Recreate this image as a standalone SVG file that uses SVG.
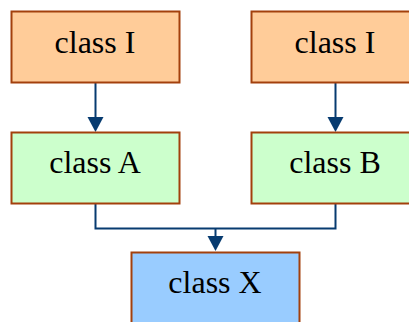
<svg xmlns="http://www.w3.org/2000/svg" width="409" height="322" viewBox="0 0 409 322">
  <style>
    .box { stroke: #a3400c; stroke-width: 2; }
    .iface { fill: #ffcc99; }
    .impl { fill: #ccffcc; }
    .target { fill: #99ccff; }
    .label { font-family: "Liberation Serif", "Times New Roman", serif; font-size: 32px; fill: #000; text-anchor: middle; }
    .wire { fill: none; stroke: #073b70; stroke-width: 2; }
    .head { fill: #073b70; }
  </style>
  <defs>
    <polygon id="arrowhead" class="head" points="-8,0 8,0 0,15"/>
  </defs>
  <rect width="409" height="322" fill="#ffffff"/>

  <g id="connectors">
    <path class="wire" d="M95.5 83 V119"/>
    <use href="#arrowhead" x="95.5" y="117"/>
    <path class="wire" d="M335.5 83 V119"/>
    <use href="#arrowhead" x="335.5" y="117"/>
    <path class="wire" d="M95.5 204 V228.5 H335.5 V204"/>
    <path class="wire" d="M215.5 228.5 V238"/>
    <use href="#arrowhead" x="215.5" y="236"/>
  </g>

  <g id="node-class-I-left">
    <rect class="box iface" x="11.5" y="11.5" width="168" height="71"/>
    <text class="label" x="95" y="52.5">class I</text>
  </g>
  <g id="node-class-I-right">
    <rect class="box iface" x="251.5" y="11.5" width="168" height="71"/>
    <text class="label" x="335" y="52.5">class I</text>
  </g>
  <g id="node-class-A">
    <rect class="box impl" x="11.5" y="132.5" width="168" height="71"/>
    <text class="label" x="95" y="173">class A</text>
  </g>
  <g id="node-class-B">
    <rect class="box impl" x="251.5" y="132.5" width="168" height="71"/>
    <text class="label" x="335" y="173">class B</text>
  </g>
  <g id="node-class-X">
    <rect class="box target" x="131.5" y="252.5" width="168" height="71"/>
    <text class="label" x="215" y="292.5">class X</text>
  </g>
</svg>
